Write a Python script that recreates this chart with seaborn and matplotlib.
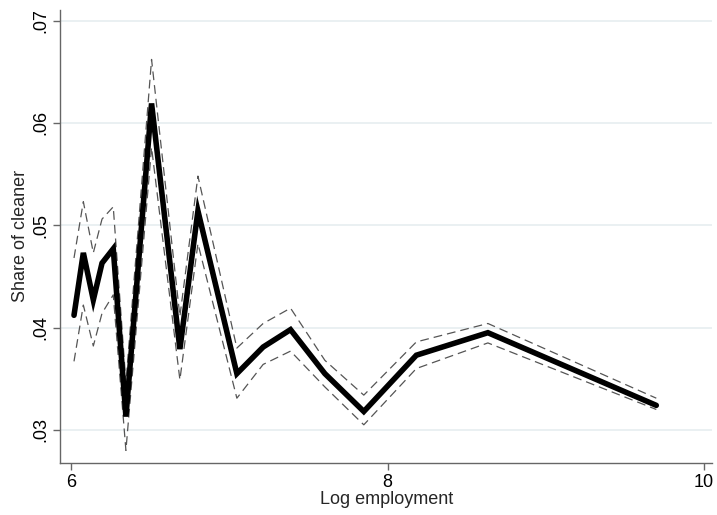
import matplotlib
matplotlib.use("Agg")
import matplotlib.pyplot as plt
import seaborn as sns
import pandas as pd

# Binned log employment and share of cleaner, with confidence bounds
log_emp = [6.019, 6.078, 6.141, 6.196, 6.267, 6.347, 6.509, 6.688, 6.802,
           7.048, 7.214, 7.387, 7.604, 7.850, 8.182, 8.634, 9.698]
share = [0.0412, 0.0473, 0.0427, 0.0463, 0.0477, 0.0313, 0.0619, 0.0379, 0.0514,
         0.0355, 0.0381, 0.0398, 0.0355, 0.0318, 0.0373, 0.0395, 0.0324]
upper = [0.0468, 0.0523, 0.0473, 0.0506, 0.0518, 0.0346, 0.0662, 0.0411, 0.0548,
         0.0380, 0.0404, 0.0419, 0.0368, 0.0334, 0.0386, 0.0404, 0.0331]
lower = [0.0367, 0.0422, 0.0382, 0.0414, 0.0432, 0.0280, 0.0576, 0.0349, 0.0482,
         0.0331, 0.0364, 0.0377, 0.0342, 0.0305, 0.0360, 0.0385, 0.0320]

xticks = [6, 8, 10]
yticks = [0.03, 0.04, 0.05, 0.06, 0.07]
ytick_labels = [".03", ".04", ".05", ".06", ".07"]

df = pd.DataFrame({"x": log_emp, "y": share, "hi": upper, "lo": lower})

sns.set_style("white")
plt.rcParams["font.family"] = ["Liberation Sans", "DejaVu Sans"]

fig = plt.figure(figsize=(7.17, 5.15), dpi=100)
ax = fig.add_axes([0.0837, 0.101, 0.910, 0.880])

for col in ["hi", "lo"]:
    sns.lineplot(data=df, x="x", y=col, ax=ax, color="#555555", linewidth=0.9,
                 dashes=False, estimator=None, sort=False)
    ax.lines[-1].set_dashes([7, 4])
sns.lineplot(data=df, x="x", y="y", ax=ax, color="black", linewidth=4.0,
             estimator=None, sort=False, solid_joinstyle="miter")

ax.set_xlim(5.9306, 10.053)
ax.set_ylim(0.02677, 0.07105)
ax.set_xticks(xticks)
ax.set_xticklabels([str(t) for t in xticks])
ax.set_yticks(yticks)
ax.set_yticklabels(ytick_labels, rotation=90, va="center")

for yv in yticks:
    ax.axhline(yv, color="#e6eef0", linewidth=1.2, zorder=0)

for side in ["top", "right"]:
    ax.spines[side].set_visible(False)
for side in ["left", "bottom"]:
    ax.spines[side].set_color("#666666")
    ax.spines[side].set_linewidth(1.0)

ax.tick_params(axis="both", which="major", direction="out", length=5, width=1,
               color="#666666", labelsize=13, labelcolor="black", pad=3,
               left=True, bottom=True)
ax.set_xlabel("Log employment", fontsize=13, labelpad=0)
ax.set_ylabel("Share of cleaner", fontsize=13, labelpad=2)

fig.savefig("out.png", dpi=100, facecolor="white")
